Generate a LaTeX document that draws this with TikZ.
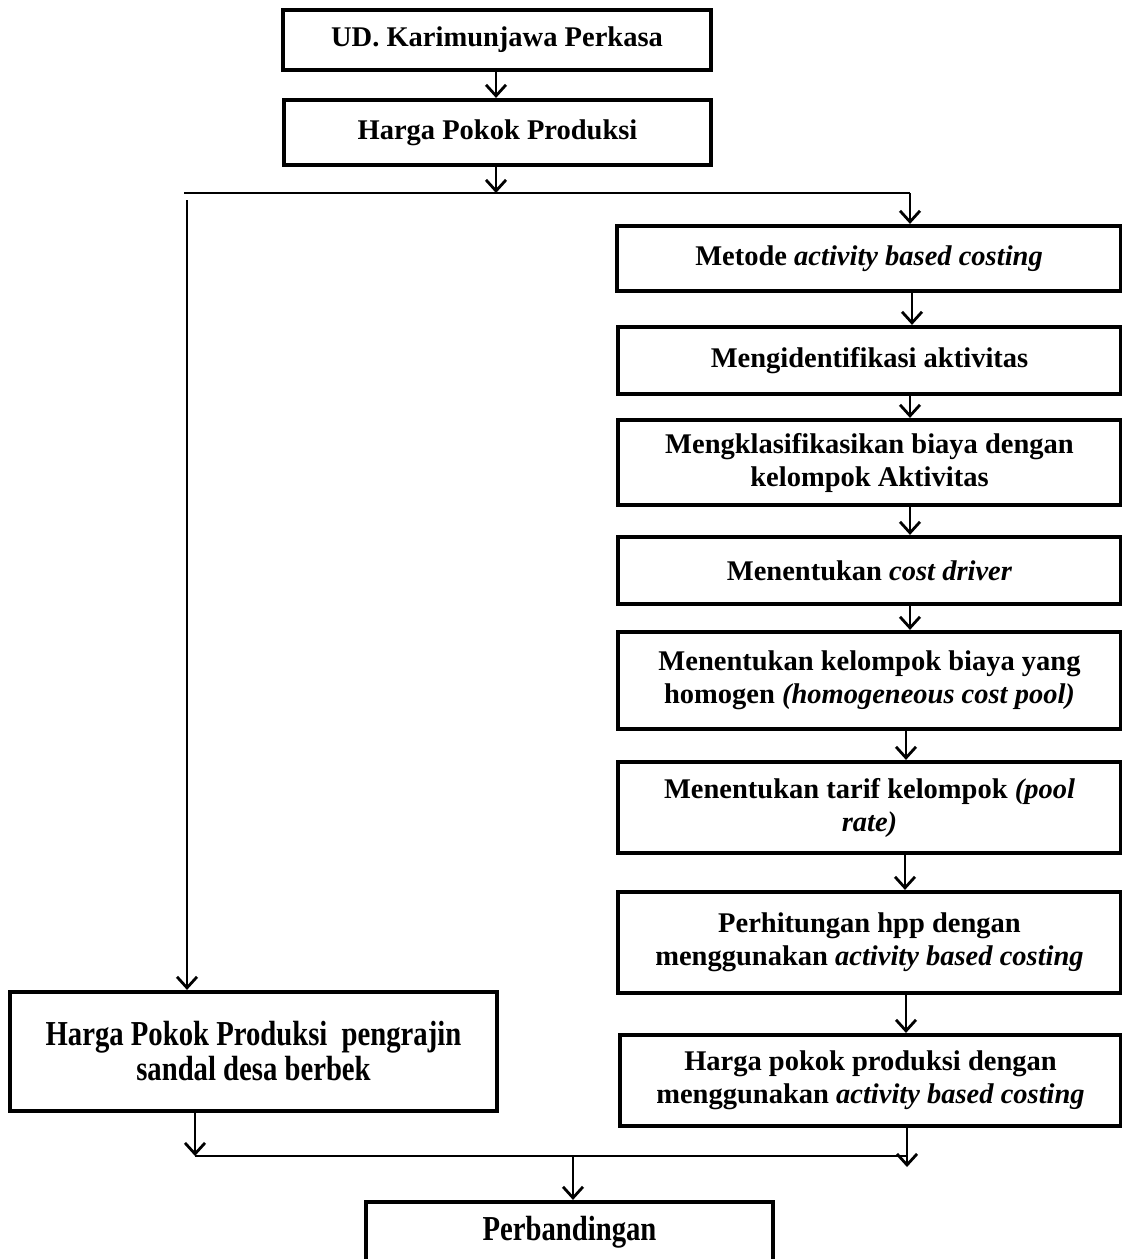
\documentclass[tikz,border=0pt]{standalone}
\usepackage{fontspec}
\setmainfont{Liberation Serif}
\newfontfamily\condfont[FakeStretch=0.82]{Liberation Serif}
\usetikzlibrary{arrows.meta}
\begin{document}
\begin{tikzpicture}[x=1pt,y=-1pt,
  box/.style={draw, line width=4.2pt, rectangle, inner sep=0pt, align=center,
    font=\fontsize{28.5}{33}\selectfont\bfseries},
  cbox/.style={box, font=\fontsize{35}{35}\condfont\bfseries},
  conn/.style={line width=2.8pt, -{Straight Barb[length=11pt,width=20pt,line width=2.8pt]}},
  ln/.style={line width=2.8pt}]
\useasboundingbox (0,0) rectangle (1122,1259);
% boxes
\node[box, minimum width=428pt, minimum height=60pt] (b1) at (497,40) {UD. Karimunjawa Perkasa};
\node[box, minimum width=427pt, minimum height=65pt] (b2) at (497.5,132.5) {Harga Pokok Produksi};
\node[box, minimum width=504pt, minimum height=65pt] (b3) at (869,258.5) {Metode \textit{activity based costing}};
\node[box, minimum width=503pt, minimum height=67pt] (b4) at (869.5,360.5) {Mengidentifikasi aktivitas};
\node[box, minimum width=503pt, minimum height=85pt] (b5) at (869.5,462.5) {Mengklasifikasikan biaya dengan\\kelompok Aktivitas};
\node[box, minimum width=503pt, minimum height=67pt] (b6) at (869.5,570.5) {Menentukan \textit{cost driver}};
\node[box, minimum width=503pt, minimum height=97pt] (b7) at (869.5,680.5) {Menentukan kelompok biaya yang\\homogen \textit{(homogeneous cost pool)}};
\node[box, minimum width=503pt, minimum height=91pt] (b8) at (869.5,807.5) {Menentukan tarif kelompok \textit{(pool}\\\textit{rate)}};
\node[box, minimum width=503pt, minimum height=101pt] (b9) at (869.5,942.5) {Perhitungan hpp dengan\\menggunakan \textit{activity based costing}};
\node[box, minimum width=501pt, minimum height=91pt] (b10) at (870.5,1080.5) {Harga pokok produksi dengan\\menggunakan \textit{activity based costing}};
\node[cbox, minimum width=487pt, minimum height=119pt] (lb) at (253.5,1051.5) {Harga Pokok Produksi\ \ pengrajin\\sandal desa berbek};
\node[cbox, minimum width=407pt, minimum height=60pt] (pb) at (569.5,1232) {Perbandingan};
% helper coordinates
\coordinate (c496) at (496,0);
\coordinate (j1) at (496,193);
\coordinate (jl) at (184,193);
\coordinate (jr) at (910,193);
\coordinate (ls) at (187,200);
\coordinate (x912) at (912,0);
\coordinate (x910) at (910,0);
\coordinate (x906) at (906,0);
\coordinate (x905) at (905,0);
\coordinate (bl) at (195,1156);
\coordinate (br) at (907,1156);
\coordinate (bm) at (573,1156);
\coordinate (bt) at (907,1167);
% connectors
\draw[conn] (b1.south -| c496) -- (b2.north -| c496);
\draw[conn] (b2.south -| c496) -- (j1);
\draw[ln] (jl) -- (jr);
\draw[conn] (jr) -- (b3.north -| jr);
\draw[conn] (ls) -- (lb.north -| ls);
\draw[conn] (b3.south -| x912) -- (b4.north -| x912);
\draw[conn] (b4.south -| x910) -- (b5.north -| x910);
\draw[conn] (b5.south -| x910) -- (b6.north -| x910);
\draw[conn] (b6.south -| x910) -- (b7.north -| x910);
\draw[conn] (b7.south -| x906) -- (b8.north -| x906);
\draw[conn] (b8.south -| x905) -- (b9.north -| x905);
\draw[conn] (b9.south -| x906) -- (b10.north -| x906);
\draw[conn] (b10.south -| bt) -- (bt);
\draw[conn] (lb.south -| bl) -- (bl);
\draw[ln] (bl) -- (br);
\draw[conn] (bm) -- (pb.north -| bm);
\end{tikzpicture}
\end{document}
